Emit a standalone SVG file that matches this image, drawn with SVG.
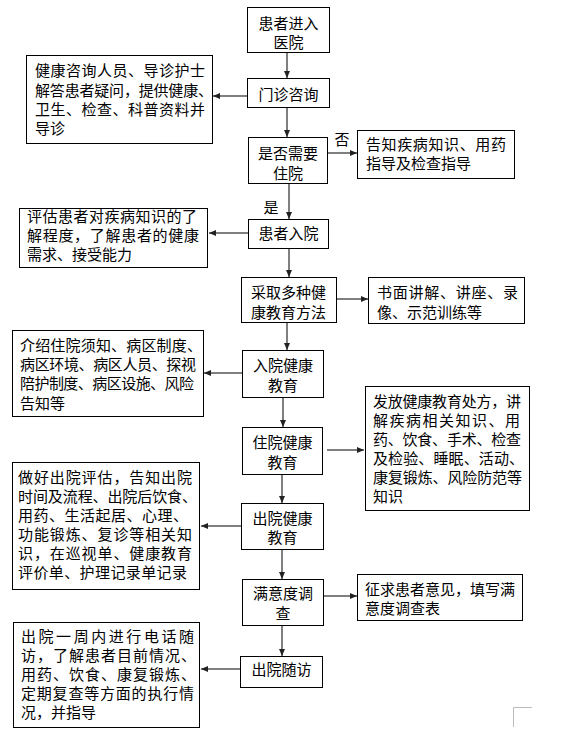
<svg xmlns="http://www.w3.org/2000/svg" width="569" height="731" viewBox="0 0 569 731">
<style>
.box{fill:#fff;stroke:#000;stroke-width:1}
text{font-family:"Noto Sans CJK SC","Liberation Sans",sans-serif;font-size:15px;fill:#000}
.c{text-anchor:middle}
.ln{stroke:#555;stroke-width:1.5;fill:none;marker-end:url(#ah)}
</style>
<defs>
<marker id="ah" markerUnits="userSpaceOnUse" markerWidth="8" markerHeight="8" refX="7" refY="4" orient="auto">
<path d="M0,1 L7,4 L0,7 Z" fill="#222"/>
</marker>
</defs>
<rect width="569" height="731" fill="#fff"/>

<g id="connectors">
<line class="ln" x1="287" y1="52" x2="287" y2="78"/>
<line class="ln" x1="287" y1="107" x2="287" y2="137"/>
<line class="ln" x1="289" y1="183" x2="289" y2="219"/>
<line class="ln" x1="289" y1="248" x2="289" y2="277"/>
<line class="ln" x1="287" y1="322" x2="287" y2="350"/>
<line class="ln" x1="283" y1="397" x2="283" y2="427"/>
<line class="ln" x1="282" y1="474" x2="282" y2="503"/>
<line class="ln" x1="282" y1="549" x2="282" y2="579"/>
<line class="ln" x1="282" y1="625" x2="282" y2="656"/>
<line class="ln" x1="247" y1="96" x2="213" y2="96"/>
<line class="ln" x1="327" y1="153" x2="357" y2="153"/>
<line class="ln" x1="248" y1="233" x2="209" y2="233"/>
<line class="ln" x1="336" y1="299" x2="368" y2="299"/>
<line class="ln" x1="242" y1="373" x2="204" y2="373"/>
<line class="ln" x1="327" y1="450" x2="364" y2="450"/>
<line class="ln" x1="241" y1="526" x2="201" y2="526"/>
<line class="ln" x1="323" y1="596" x2="357" y2="596"/>
<line class="ln" x1="240" y1="669" x2="201" y2="669"/>
<text x="342" y="145" class="c">否</text>
<text x="271" y="213" class="c">是</text>
</g>

<g id="n1"><rect class="box" x="247.5" y="7.5" width="82" height="45"/>
<text x="288.5" y="28.5" class="c">患者进入</text><text x="288.5" y="47.5" class="c">医院</text></g>

<g id="n2"><rect class="box" x="247.5" y="78.5" width="82" height="29"/>
<text x="288.5" y="99.5" class="c">门诊咨询</text></g>

<g id="n2l"><rect class="box" x="26.5" y="55.5" width="186" height="88"/>
<text x="35" y="75.5" textLength="170" lengthAdjust="spacing">健康咨询人员、导诊护士</text>
<text x="35" y="95.5" textLength="178" lengthAdjust="spacing">解答患者疑问，提供健康、</text>
<text x="35" y="114.5" textLength="170" lengthAdjust="spacing">卫生、检查、科普资料并</text>
<text x="35" y="133.5">导诊</text></g>

<g id="n3"><rect class="box" x="248.5" y="137.5" width="79" height="46"/>
<text x="288" y="158.5" class="c">是否需要</text><text x="288" y="178.5" class="c">住院</text></g>

<g id="n3r"><rect class="box" x="357.5" y="130.5" width="157" height="48"/>
<text x="366" y="150" textLength="140" lengthAdjust="spacing">告知疾病知识、用药</text>
<text x="366" y="169">指导及检查指导</text></g>

<g id="n4"><rect class="box" x="248.5" y="219.5" width="80" height="29"/>
<text x="288.5" y="239" class="c">患者入院</text></g>

<g id="n4l"><rect class="box" x="19.5" y="208.5" width="188" height="59"/>
<text x="27" y="222" textLength="170" lengthAdjust="spacing">评估患者对疾病知识的了</text>
<text x="27" y="241" textLength="172" lengthAdjust="spacing">解程度，了解患者的健康</text>
<text x="27" y="260">需求、接受能力</text></g>

<g id="n5"><rect class="box" x="241.5" y="277.5" width="95" height="45"/>
<text x="288.5" y="297.5" class="c">采取多种健</text><text x="288.5" y="317.5" class="c">康教育方法</text></g>

<g id="n5r"><rect class="box" x="368.5" y="277.5" width="156" height="46"/>
<text x="377" y="297.5" textLength="141" lengthAdjust="spacing">书面讲解、讲座、录</text>
<text x="377" y="317.5">像、示范训练等</text></g>

<g id="n6"><rect class="box" x="242.5" y="350.5" width="81" height="47"/>
<text x="283" y="370.5" class="c">入院健康</text><text x="283" y="390.5" class="c">教育</text></g>

<g id="n6l"><rect class="box" x="12.5" y="330.5" width="191" height="86"/>
<text x="20" y="350.5" textLength="182" lengthAdjust="spacing">介绍住院须知、病区制度、</text>
<text x="20" y="369.5" textLength="176" lengthAdjust="spacing">病区环境、病区人员、探视</text>
<text x="20" y="388.5" textLength="174" lengthAdjust="spacing">陪护制度、病区设施、风险</text>
<text x="20" y="408.5">告知等</text></g>

<g id="n7"><rect class="box" x="242.5" y="427.5" width="80" height="47"/>
<text x="282.5" y="447.5" class="c">住院健康</text><text x="282.5" y="467.5" class="c">教育</text></g>

<g id="n7r"><rect class="box" x="365.5" y="386.5" width="164" height="124"/>
<text x="373" y="407" textLength="148" lengthAdjust="spacing">发放健康教育处方，讲</text>
<text x="373" y="426" textLength="147" lengthAdjust="spacing">解疾病相关知识、用</text>
<text x="373" y="445" textLength="148" lengthAdjust="spacing">药、饮食、手术、检查</text>
<text x="373" y="464" textLength="151" lengthAdjust="spacing">及检验、睡眠、活动、</text>
<text x="373" y="483" textLength="149" lengthAdjust="spacing">康复锻炼、风险防范等</text>
<text x="373" y="502">知识</text></g>

<g id="n8"><rect class="box" x="241.5" y="503.5" width="82" height="46"/>
<text x="282.5" y="523.5" class="c">出院健康</text><text x="282.5" y="542.5" class="c">教育</text></g>

<g id="n8l"><rect class="box" x="12.5" y="462.5" width="187" height="127"/>
<text x="18" y="483" textLength="174" lengthAdjust="spacing">做好出院评估，告知出院</text>
<text x="18" y="502" textLength="179" lengthAdjust="spacing">时间及流程、出院后饮食、</text>
<text x="18" y="521" textLength="170" lengthAdjust="spacing">用药、生活起居、心理、</text>
<text x="18" y="540" textLength="174" lengthAdjust="spacing">功能锻炼、复诊等相关知</text>
<text x="18" y="559" textLength="174" lengthAdjust="spacing">识，在巡视单、健康教育</text>
<text x="18" y="578" textLength="169" lengthAdjust="spacing">评价单、护理记录单记录</text></g>

<g id="n9"><rect class="box" x="242.5" y="579.5" width="81" height="46"/>
<text x="283" y="598.5" class="c">满意度调</text><text x="283" y="618.5" class="c">查</text></g>

<g id="n9r"><rect class="box" x="357.5" y="574.5" width="165" height="46"/>
<text x="365" y="594.5" textLength="150" lengthAdjust="spacing">征求患者意见，填写满</text>
<text x="365" y="613.5">意度调查表</text></g>

<g id="n10"><rect class="box" x="240.5" y="656.5" width="82" height="31"/>
<text x="281.5" y="675" class="c">出院随访</text></g>

<g id="n10l"><rect class="box" x="13.5" y="622.5" width="186" height="105"/>
<text x="21" y="642" textLength="173" lengthAdjust="spacing">出院一周内进行电话随</text>
<text x="21" y="661" textLength="175" lengthAdjust="spacing">访，了解患者目前情况、</text>
<text x="21" y="680" textLength="175" lengthAdjust="spacing">用药、饮食、康复锻炼、</text>
<text x="21" y="699" textLength="173" lengthAdjust="spacing">定期复查等方面的执行情</text>
<text x="21" y="718">况，并指导</text></g>

<polyline points="532,707.5 513.5,707.5 513.5,727" fill="none" stroke="#bbb" stroke-width="1"/>
</svg>
